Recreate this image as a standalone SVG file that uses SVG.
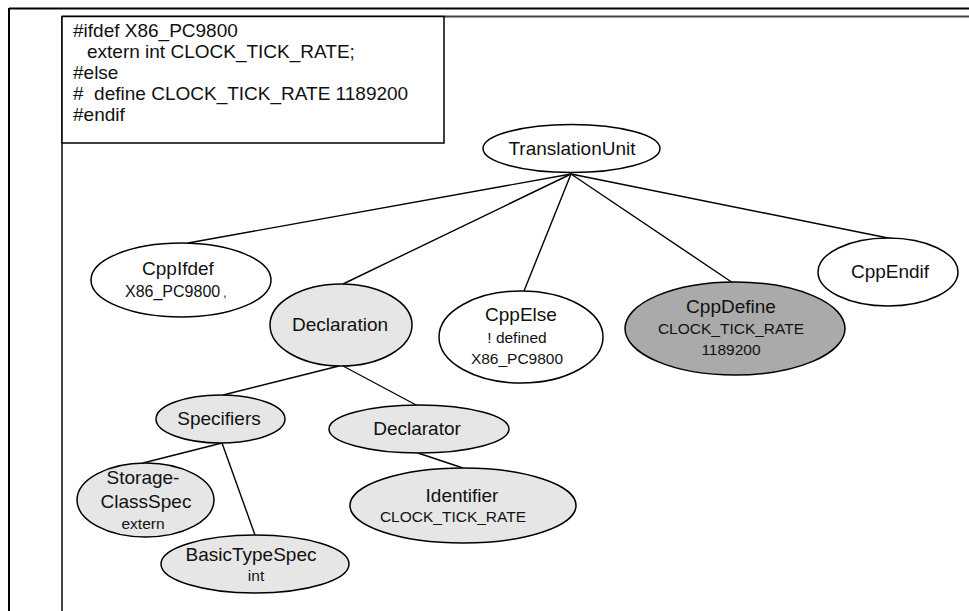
<svg xmlns="http://www.w3.org/2000/svg" width="969" height="611" viewBox="0 0 969 611">
  <style>
    .frame { stroke: #000; stroke-width: 2; fill: none; }
    .inner { stroke: #444; stroke-width: 2; fill: none; }
    .node ellipse { stroke: #000; stroke-width: 1.5; }
    .plain { fill: #fff; }
    .light { fill: #e6e6e6; }
    .dark { fill: #aaaaaa; }
    .edges line { stroke: #000; stroke-width: 1.4; }
    text { font-family: "Liberation Sans", Arial, sans-serif; fill: #111; }
    .lbl { font-size: 19px; text-anchor: middle; }
    .sub { font-size: 15.5px; text-anchor: middle; }
    .code { font-size: 19px; }
  </style>

  <rect width="969" height="611" fill="#fff"/>

  <!-- page frame -->
  <g id="frame">
    <line class="frame" x1="9" y1="8.5" x2="969" y2="8.5"/>
    <line class="frame" x1="9" y1="8" x2="9" y2="611"/>
    <line class="inner" x1="62" y1="16.5" x2="969" y2="16.5"/>
    <line class="inner" x1="62" y1="16" x2="62" y2="611"/>
  </g>

  <!-- source excerpt -->
  <g id="code">
    <rect x="62" y="16.5" width="382" height="126.5" fill="#fff" stroke="#000" stroke-width="1.5"/>
    <text class="code" x="73" y="37">#ifdef X86_PC9800</text>
    <text class="code" x="87" y="58">extern int CLOCK_TICK_RATE;</text>
    <text class="code" x="73" y="79">#else</text>
    <text class="code" x="73" y="100" xml:space="preserve">#  define CLOCK_TICK_RATE 1189200</text>
    <text class="code" x="73" y="121">#endif</text>
  </g>

  <!-- tree edges -->
  <g id="edges" class="edges">
    <line x1="571" y1="174" x2="188" y2="243"/>
    <line x1="571" y1="174" x2="343" y2="284"/>
    <line x1="571" y1="174" x2="524" y2="291"/>
    <line x1="571" y1="174" x2="733" y2="283"/>
    <line x1="571" y1="174" x2="893" y2="239"/>
    <line x1="339" y1="366" x2="223" y2="395"/>
    <line x1="343" y1="366" x2="418" y2="406"/>
    <line x1="222" y1="443" x2="143" y2="463"/>
    <line x1="222" y1="443" x2="255" y2="535"/>
    <line x1="418" y1="453" x2="463" y2="468"/>
  </g>

  <g id="TranslationUnit" class="node">
    <ellipse class="plain" cx="571.5" cy="148.5" rx="88.5" ry="24"/>
    <text class="lbl" x="572" y="155">TranslationUnit</text>
  </g>

  <g id="CppIfdef" class="node">
    <ellipse class="plain" cx="181" cy="280" rx="90" ry="37"/>
    <text class="lbl" x="178" y="275">CppIfdef</text>
    <text x="125" y="297" font-size="16">X86_PC9800<tspan dx="3" font-size="12">,</tspan></text>
  </g>

  <g id="Declaration" class="node">
    <ellipse class="light" cx="341" cy="325" rx="71" ry="41"/>
    <text class="lbl" x="340" y="331">Declaration</text>
  </g>

  <g id="CppElse" class="node">
    <ellipse class="plain" cx="521" cy="337" rx="82" ry="46"/>
    <text class="lbl" x="521" y="321">CppElse</text>
    <text class="sub" x="517" y="343">! defined</text>
    <text class="sub" x="517" y="364">X86_PC9800</text>
  </g>

  <g id="CppDefine" class="node">
    <ellipse class="dark" cx="735" cy="328.5" rx="110" ry="46.5"/>
    <text class="lbl" x="731" y="313">CppDefine</text>
    <text class="sub" x="731" y="334">CLOCK_TICK_RATE</text>
    <text class="sub" x="731" y="355">1189200</text>
  </g>

  <g id="CppEndif" class="node">
    <ellipse class="plain" cx="888" cy="272" rx="70" ry="34"/>
    <text class="lbl" x="890" y="278">CppEndif</text>
  </g>

  <g id="Specifiers" class="node">
    <ellipse class="light" cx="220.5" cy="419" rx="64.5" ry="24"/>
    <text class="lbl" x="219" y="425">Specifiers</text>
  </g>

  <g id="Declarator" class="node">
    <ellipse class="light" cx="419" cy="429" rx="90" ry="24"/>
    <text class="lbl" x="417" y="435">Declarator</text>
  </g>

  <g id="StorageClassSpec" class="node">
    <ellipse class="light" cx="145.5" cy="500" rx="68.5" ry="37"/>
    <text class="lbl" x="143" y="484">Storage-</text>
    <text class="lbl" x="146" y="508">ClassSpec</text>
    <text class="sub" x="143" y="529" font-size="14.5">extern</text>
  </g>

  <g id="BasicTypeSpec" class="node">
    <ellipse class="light" cx="255" cy="564" rx="94" ry="29"/>
    <text class="lbl" x="251" y="561" font-size="18">BasicTypeSpec</text>
    <text class="sub" x="256" y="581">int</text>
  </g>

  <g id="Identifier" class="node">
    <ellipse class="light" cx="463" cy="505.5" rx="113" ry="37.5"/>
    <text class="lbl" x="462" y="502">Identifier</text>
    <text class="sub" x="453" y="522">CLOCK_TICK_RATE</text>
  </g>
</svg>
